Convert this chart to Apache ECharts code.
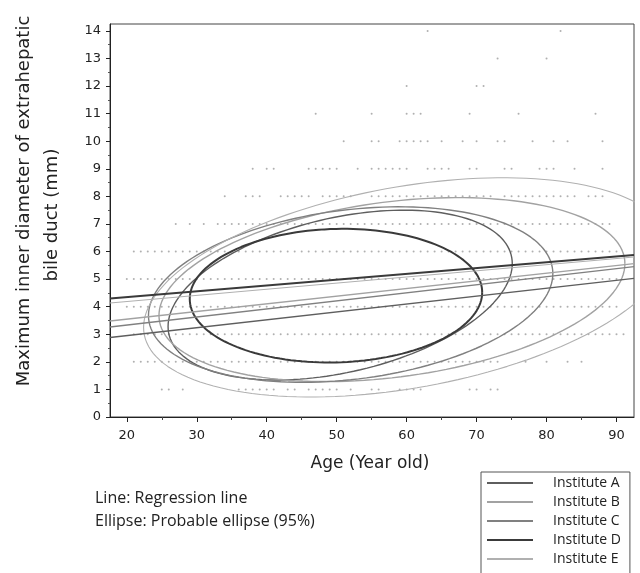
<!DOCTYPE html>
<html><head><meta charset="utf-8">
<script src="https://cdn.jsdelivr.net/npm/echarts@6/dist/echarts.min.js"></script>
<style>html,body{margin:0;padding:0;background:#fff}#chart{width:640px;height:573px}</style>
</head><body><div id="chart"></div>
<script>
// ---------- data ----------
const institutes = ['Institute A', 'Institute B', 'Institute C', 'Institute D', 'Institute E'];
const xTickLabels = [20, 30, 40, 50, 60, 70, 80, 90];
const xMinorTicks = [25, 35, 45, 55, 65, 75, 85];
const yTickLabels = [0, 1, 2, 3, 4, 5, 6, 7, 8, 9, 10, 11, 12, 13, 14];
const yMinorTicks = [0.5, 1.5, 2.5, 3.5, 4.5, 5.5, 6.5, 7.5, 8.5, 9.5, 10.5, 11.5, 12.5, 13.5];

// regression lines: diameter = intercept + slope * age
const regIntercept = [2.38, 2.99, 2.75, 3.93, 3.74];
const regSlope = [0.0286, 0.0278, 0.0292, 0.0210, 0.0223];

// 95% probable ellipses (centre, half extent in age, diameter offset at the age extremes, half height)
const ellCenterAge = [50.5, 57.9, 52.0, 49.9, 60.0];
const ellCenterDia = [4.42, 4.62, 4.44, 4.40, 4.70];
const ellHalfAge = [24.6, 33.3, 28.9, 20.9, 37.6];
const ellRise = [1.14, 0.94, 0.76, 0.12, 1.45];
const ellHalfDia = [2.86, 3.20, 3.09, 2.42, 3.70];

// observed patients: ages found at each diameter level (mm)
const agesAt1mm = [25, 26, 28, 36, 37, 38, 39, 40, 41, 43, 44, 46, 47, 48, 49, 50, 52, 55, 56, 59, 60, 61, 62, 69, 70, 72, 73];
const agesAt2mm = [21, 22, 23, 24, 25, 26, 27, 28, 29, 30, 31, 32, 33, 34, 35, 36, 37, 38, 39, 40, 41, 42, 43, 44, 45, 46, 47, 48, 49, 50, 51, 52, 53, 54, 55, 56, 57, 58, 59, 60, 61, 62, 63, 64, 65, 66, 67, 68, 69, 70, 71, 72, 73, 77, 80, 83, 85];
const agesAt3mm = [21, 22, 23, 24, 25, 26, 27, 28, 29, 30, 31, 32, 33, 34, 35, 36, 37, 38, 39, 40, 41, 42, 43, 44, 45, 46, 47, 48, 49, 50, 51, 52, 53, 54, 55, 56, 57, 58, 59, 60, 61, 62, 63, 64, 65, 66, 67, 68, 69, 70, 71, 72, 73, 74, 75, 76, 77, 78, 79, 80, 81, 82, 83, 84, 85, 86, 87, 88, 89, 90, 91];
const agesAt4mm = [20, 21, 22, 23, 24, 25, 26, 27, 28, 29, 30, 31, 32, 33, 34, 35, 36, 37, 38, 39, 40, 41, 42, 43, 44, 45, 46, 47, 48, 49, 50, 51, 52, 53, 54, 55, 56, 57, 58, 59, 60, 61, 62, 63, 64, 65, 66, 67, 68, 69, 70, 71, 72, 73, 74, 75, 76, 77, 78, 79, 80, 81, 82, 83, 84, 85, 86, 87, 88, 89, 90];
const agesAt5mm = [20, 21, 22, 23, 24, 25, 26, 27, 28, 29, 30, 31, 32, 33, 34, 35, 36, 37, 38, 39, 40, 41, 42, 43, 44, 45, 46, 47, 48, 49, 50, 51, 52, 53, 54, 55, 56, 57, 58, 59, 60, 61, 62, 63, 64, 65, 66, 67, 68, 69, 70, 71, 72, 73, 74, 75, 76, 77, 78, 79, 80, 81, 82, 83, 84, 85, 86, 87, 88, 89, 90];
const agesAt6mm = [21, 22, 23, 24, 25, 26, 27, 28, 29, 30, 31, 32, 33, 34, 35, 36, 37, 38, 39, 40, 41, 42, 43, 44, 45, 46, 47, 48, 49, 50, 51, 52, 53, 54, 55, 56, 57, 58, 59, 60, 61, 62, 63, 64, 65, 66, 67, 68, 69, 70, 71, 72, 73, 74, 75, 76, 77, 78, 79, 80, 81, 82, 83, 84, 85, 86, 87, 88, 89, 90];
const agesAt7mm = [27, 29, 31, 33, 34, 35, 36, 37, 38, 39, 40, 41, 42, 43, 44, 45, 46, 47, 48, 49, 50, 51, 52, 53, 54, 55, 56, 57, 58, 59, 60, 61, 62, 63, 64, 65, 66, 67, 68, 69, 70, 71, 72, 73, 74, 75, 76, 77, 78, 79, 80, 81, 82, 83, 84, 85, 86, 87, 88, 89];
const agesAt8mm = [34, 37, 38, 39, 42, 43, 44, 45, 46, 48, 49, 50, 51, 52, 55, 56, 57, 58, 59, 60, 61, 62, 63, 64, 65, 66, 67, 68, 69, 70, 71, 72, 74, 75, 76, 77, 78, 79, 80, 81, 82, 83, 84, 86, 87, 88];
const agesAt9mm = [38, 40, 41, 46, 47, 48, 49, 50, 53, 55, 56, 57, 58, 59, 60, 63, 64, 65, 66, 69, 70, 74, 75, 79, 80, 81, 84, 88];
const agesAt10mm = [51, 55, 56, 59, 60, 61, 62, 63, 65, 68, 70, 73, 74, 78, 81, 83, 88];
const agesAt11mm = [47, 55, 60, 61, 62, 69, 76, 87];
const agesAt12mm = [60, 70, 71];
const agesAt13mm = [73, 80];
const agesAt14mm = [63, 82];

// ---------- styles ----------
const instColors = ['#5e5e5e', '#a2a2a2', '#808080', '#3a3a3a', '#b0b0b0'];
const instWidths = [1.4, 1.4, 1.4, 2, 1.1];
const AGE_MIN = 17.6, AGE_MAX = 92.5, DIA_MIN = 0, DIA_MAX = 14.25;

// ---------- build ----------
const levelRows = [agesAt1mm, agesAt2mm, agesAt3mm, agesAt4mm, agesAt5mm, agesAt6mm, agesAt7mm,
  agesAt8mm, agesAt9mm, agesAt10mm, agesAt11mm, agesAt12mm, agesAt13mm, agesAt14mm];
const scatterData = [];
levelRows.forEach((ages, i) => ages.forEach(a => scatterData.push([a, i + 1])));

function ellipsePoints(k) {
  const pts = [];
  const n = 160;
  for (let j = 0; j <= n; j++) {
    const t = (j / n) * Math.PI * 2;
    pts.push([ellCenterAge[k] + ellHalfAge[k] * Math.cos(t),
              ellCenterDia[k] + ellRise[k] * Math.cos(t) + ellHalfDia[k] * Math.sin(t)]);
  }
  return pts;
}

const series = [{
  name: 'Patients', type: 'scatter', data: scatterData, symbolSize: 2,
  itemStyle: { color: '#9c9c9c' }, silent: true, z: 1
}];
institutes.forEach((name, k) => {
  series.push({
    name, type: 'line', symbol: 'none', silent: true, z: 3, clip: true,
    data: [[AGE_MIN, regIntercept[k] + regSlope[k] * AGE_MIN], [AGE_MAX, regIntercept[k] + regSlope[k] * AGE_MAX]],
    lineStyle: { color: instColors[k], width: instWidths[k] }, itemStyle: { color: instColors[k] }
  });
});
institutes.forEach((name, k) => {
  series.push({
    name, type: 'line', symbol: 'none', silent: true, z: 2, smooth: false, clip: true,
    data: ellipsePoints(k),
    lineStyle: { color: instColors[k], width: instWidths[k] }, itemStyle: { color: instColors[k] }
  });
});

const tickFont = { fontFamily: 'DejaVu Sans', fontSize: 13, color: '#222' };
const chart = echarts.init(document.getElementById('chart'), null, { renderer: 'canvas' });
chart.setOption({
  animation: false,
  backgroundColor: '#fff',
  grid: { left: 110, top: 24, width: 524, height: 393, show: true, borderColor: '#444', borderWidth: 1, backgroundColor: 'transparent' },
  xAxis: [{
    type: 'value', min: AGE_MIN, max: AGE_MAX,
    axisLine: { onZero: false, lineStyle: { color: '#222', width: 1 } },
    axisTick: { customValues: xTickLabels, length: 5, lineStyle: { color: '#222' } },
    axisLabel: Object.assign({ customValues: xTickLabels, margin: 12 }, tickFont),
    splitLine: { show: false }
  }, {
    type: 'value', min: AGE_MIN, max: AGE_MAX, position: 'bottom',
    axisLine: { show: false },
    axisTick: { customValues: xMinorTicks, length: 3, lineStyle: { color: '#444' } },
    axisLabel: { show: false }, splitLine: { show: false }
  }],
  yAxis: [{
    type: 'value', min: DIA_MIN, max: DIA_MAX,
    axisLine: { show: true, onZero: false, lineStyle: { color: '#222', width: 1 } },
    axisTick: { show: true, customValues: yTickLabels, length: 4, lineStyle: { color: '#222' } },
    axisLabel: Object.assign({ customValues: yTickLabels, margin: 9 }, tickFont),
    splitLine: { show: false }
  }, {
    type: 'value', min: DIA_MIN, max: DIA_MAX, position: 'left',
    axisLine: { show: false },
    axisTick: { show: true, customValues: yMinorTicks, length: 2, lineStyle: { color: '#555' } },
    axisLabel: { show: false }, splitLine: { show: false }
  }],
  legend: {
    data: institutes, orient: 'vertical', left: 481, top: 472, height: 130,
    itemWidth: 46, itemHeight: 14, itemGap: 5,
    padding: [4, 9, 8, 5],
    borderColor: '#555', borderWidth: 1,
    selectedMode: false,
    itemStyle: { opacity: 0 },
    textStyle: { fontFamily: 'Open Sans', fontSize: 14, color: '#222', padding: [0, 0, 0, 15] }
  },
  graphic: [
    { type: 'rect', x: 635, y: 0, z: 100, shape: { width: 10, height: 430 }, style: { fill: '#fff' }, silent: true },
    { type: 'text', x: 24, y: 201, rotation: Math.PI / 2,
      style: { text: 'Maximum inner diameter of extrahepatic', font: '18px "DejaVu Sans"', fill: '#222', align: 'center', verticalAlign: 'middle' } },
    { type: 'text', x: 52, y: 215, rotation: Math.PI / 2,
      style: { text: 'bile duct (mm)', font: '18px "DejaVu Sans"', fill: '#222', align: 'center', verticalAlign: 'middle' } },
    { type: 'text', x: 370, y: 464,
      style: { text: 'Age (Year old)', font: '17px "DejaVu Sans"', fill: '#222', align: 'center', verticalAlign: 'middle' } },
    { type: 'text', x: 95, y: 498,
      style: { text: 'Line: Regression line', font: '16px "Open Sans"', fill: '#222', align: 'left', verticalAlign: 'middle' } },
    { type: 'text', x: 95, y: 521,
      style: { text: 'Ellipse: Probable ellipse (95%)', font: '16px "Open Sans"', fill: '#222', align: 'left', verticalAlign: 'middle' } }
  ],
  series
});
</script></body></html>
